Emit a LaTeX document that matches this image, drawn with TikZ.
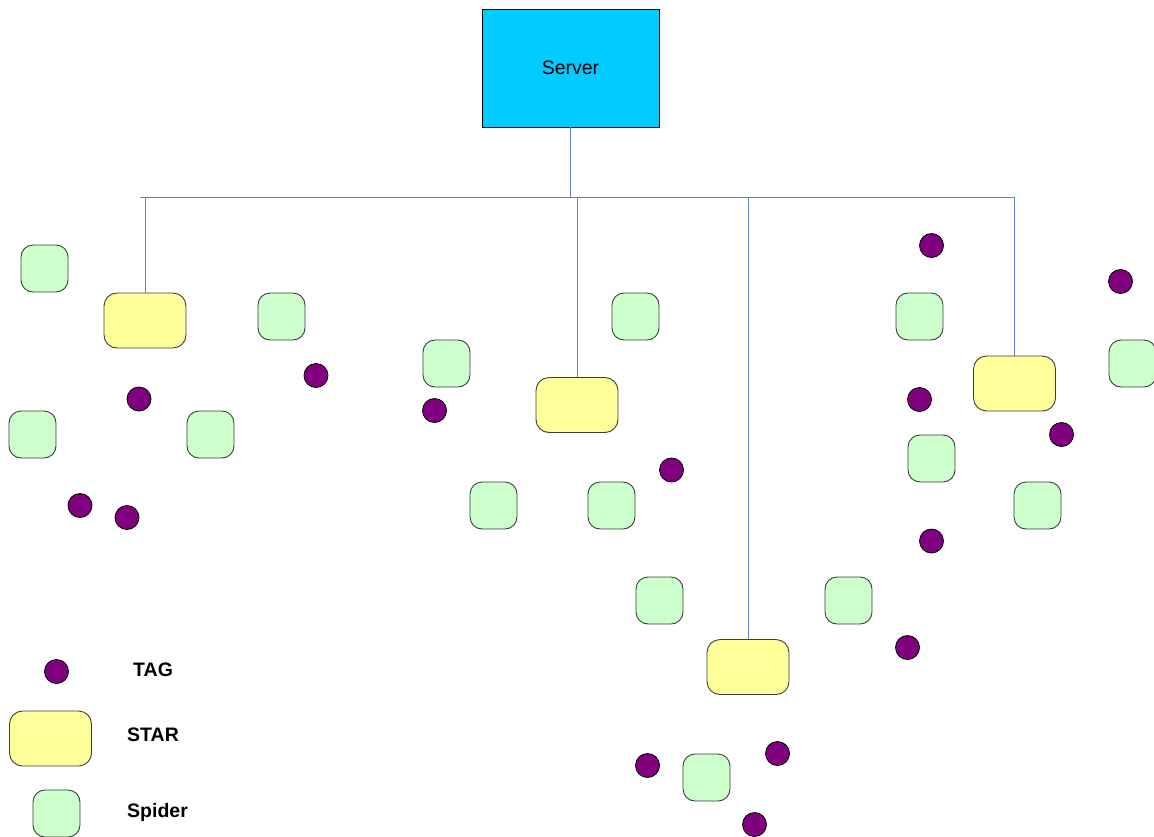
\documentclass[tikz,border=0pt]{standalone}
\usepackage{fontspec}
\setmainfont{Liberation Sans}
\begin{document}
\begin{tikzpicture}[x=1pt,y=-1pt,
  every node/.style={font=\fontsize{19.5}{23}\selectfont},
  serverbox/.style={draw=black, line width=0.9pt, fill={rgb,255:red,0;green,204;blue,255}, minimum width=177pt, minimum height=118pt, inner sep=0pt},
  starbox/.style={draw={rgb,255:red,60;green,60;blue,60}, line width=0.9pt, fill={rgb,255:red,255;green,255;blue,153}, rounded corners=13pt, minimum width=82pt, minimum height=55pt, inner sep=0pt},
  spiderbox/.style={draw={rgb,255:red,60;green,60;blue,60}, line width=0.9pt, fill={rgb,255:red,204;green,255;blue,204}, rounded corners=12pt, minimum width=47pt, minimum height=47pt, inner sep=0pt},
  tagdot/.style={circle, draw=black, line width=0.8pt, fill={rgb,255:red,128;green,0;blue,128}, minimum size=24pt, inner sep=0pt},
  legendtext/.style={font=\fontsize{19.5}{23}\selectfont\bfseries, anchor=west, inner sep=0pt},
  busline/.style={draw={rgb,255:red,90;green,130;blue,205}, line width=0.9pt}
]
\useasboundingbox (0,0) rectangle (1154,836);

% server
\node[serverbox] (server) at (570.5,68) {Server};

% stars
\node[starbox] (star1) at (145,320.5) {};
\node[starbox] (star2) at (577,405) {};
\node[starbox] (star3) at (748,667) {};
\node[starbox] (star4) at (1014.5,383.5) {};

% bus
\coordinate (busL) at (140,197);
\coordinate (busR) at (1015,197);
\coordinate (busM) at (570.5,197);
\draw[busline] (server.south) -- (busM);
\draw[busline] (busL) -- (busR);
\draw[busline] (star1.north |- busL) -- (star1.north);
\draw[busline] (star2.north |- busL) -- (star2.north);
\draw[busline] (star3.north |- busL) -- (star3.north);
\draw[busline] (star4.north |- busL) -- (star4.north);

% spiders
\node[spiderbox] (s1) at (44.5,268.5) {};
\node[spiderbox] (s2) at (281.5,316.5) {};
\node[spiderbox] (s3) at (32.5,434.5) {};
\node[spiderbox] (s4) at (210.5,434.5) {};
\node[spiderbox] (s5) at (446.5,363.5) {};
\node[spiderbox] (s6) at (635.5,316.5) {};
\node[spiderbox] (s7) at (493.5,505.5) {};
\node[spiderbox] (s8) at (611.5,505.5) {};
\node[spiderbox] (s9) at (659.5,600.5) {};
\node[spiderbox] (s10) at (848.5,600.5) {};
\node[spiderbox] (s11) at (706.5,777.5) {};
\node[spiderbox] (s12) at (919.5,316.5) {};
\node[spiderbox] (s13) at (931.5,458.5) {};
\node[spiderbox] (s14) at (1037.5,505.5) {};
\node[spiderbox] (s15) at (1132.5,363.5) {};

% tags
\node[tagdot] (t1) at (139,399) {};
\node[tagdot] (t2) at (316,375.5) {};
\node[tagdot] (t3) at (80,505.5) {};
\node[tagdot] (t4) at (127,517.5) {};
\node[tagdot] (t5) at (434.5,410.5) {};
\node[tagdot] (t6) at (671.5,470) {};
\node[tagdot] (t7) at (931.5,245.5) {};
\node[tagdot] (t8) at (1120.5,281.5) {};
\node[tagdot] (t9) at (919.5,399.5) {};
\node[tagdot] (t10) at (1061.5,434.5) {};
\node[tagdot] (t11) at (931.5,541) {};
\node[tagdot] (t12) at (907.5,647.5) {};
\node[tagdot] (t13) at (647.5,765.5) {};
\node[tagdot] (t14) at (777.5,753.5) {};
\node[tagdot] (t15) at (754.5,824.5) {};

% legend
\node[tagdot] (ltag) at (56.5,671.5) {};
\node[starbox] (lstar) at (50.5,738.5) {};
\node[spiderbox] (lspider) at (56.5,813.5) {};
\node[legendtext] (ltagtxt) at (133,670) {TAG};
\node[legendtext] (lstartxt) at (127,735) {STAR};
\node[legendtext] (lspidertxt) at (127,812) {Spider};
\end{tikzpicture}
\end{document}
